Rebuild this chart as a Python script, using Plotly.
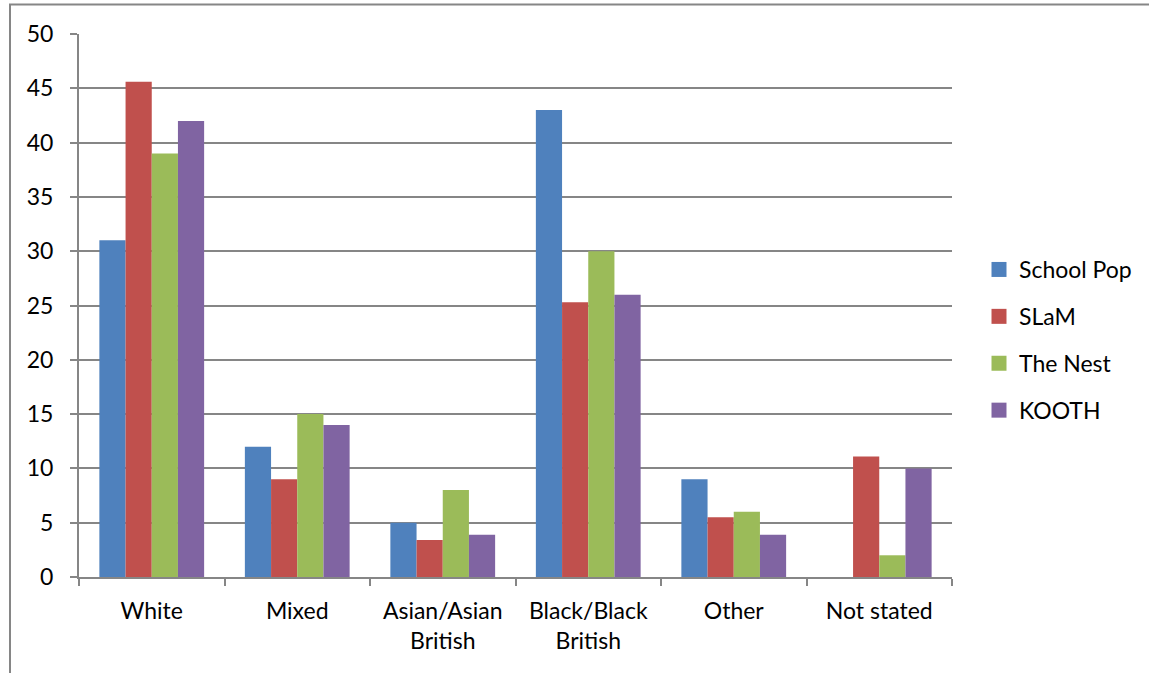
import plotly.graph_objects as go

categories = ["White", "Mixed", "Asian/Asian<br>British", "Black/Black<br>British", "Other", "Not stated"]
school_pop = [31, 12, 5, 43, 9, 0]
slam = [45.6, 9, 3.4, 25.3, 5.5, 11.1]
the_nest = [39, 15, 8, 30, 6, 2]
kooth = [42, 14, 3.9, 26, 3.9, 10]

series = [
    ("School Pop", school_pop, "#4F81BD"),
    ("SLaM", slam, "#C0504D"),
    ("The Nest", the_nest, "#9BBB59"),
    ("KOOTH", kooth, "#8064A2"),
]

FONT = "Lato, Open Sans, sans-serif"
GRID = "#868686"
FS = 23

fig = go.Figure()
for i, (name, vals, col) in enumerate(series):
    fig.add_trace(go.Bar(
        name=name, x=categories, y=vals,
        marker=dict(color=col, line=dict(width=0)),
        showlegend=False,
    ))
for i, (name, vals, col) in enumerate(series):
    fig.add_trace(go.Scatter(
        name=name, x=[None], y=[None], mode="markers",
        marker=dict(symbol="square", size=15, color=col),
        legendgroup=f"g{i}", showlegend=True,
    ))

W, H = 1149, 673
L, R, T, B = 79, 952, 34, 577

fig.update_layout(
    width=W, height=H,
    margin=dict(l=L, r=W - R, t=T, b=H - B, pad=0),
    paper_bgcolor="white", plot_bgcolor="white",
    barmode="group", bargap=0.28, bargroupgap=0,
    font=dict(family=FONT, size=FS, color="black"),
    legend=dict(
        x=(979 - L) / (R - L), xanchor="left",
        y=(B - 340) / (B - T), yanchor="middle",
        font=dict(family=FONT, size=FS, color="black"),
        tracegroupgap=14, bgcolor="rgba(0,0,0,0)",
        itemwidth=30,
    ),
    xaxis=dict(
        type="category",
        showline=True, linecolor=GRID, linewidth=2,
        ticks="outside", tickson="boundaries", ticklen=7, tickcolor=GRID, tickwidth=2,
        showgrid=False,
        tickfont=dict(family=FONT, size=FS, color="black"),
        ticklabelstandoff=12,
    ),
    yaxis=dict(
        range=[0, 50], tickvals=[0, 5, 10, 15, 20, 25, 30, 35, 40, 45, 50],
        showline=True, linecolor=GRID, linewidth=2,
        ticks="outside", ticklen=7, tickcolor=GRID, tickwidth=2,
        showgrid=True, gridcolor=GRID, gridwidth=2,
        zeroline=False,
        tickfont=dict(family=FONT, size=FS, color="black"),
        ticklabelstandoff=12,
    ),
    shapes=[dict(
        type="rect", xref="paper", yref="paper",
        x0=(10 - L) / (R - L), x1=2.0,
        y0=-2.0, y1=(B - 4.5) / (B - T),
        line=dict(color=GRID, width=2), fillcolor="rgba(0,0,0,0)", layer="below",
    )],
)

fig.write_html("out.html")
